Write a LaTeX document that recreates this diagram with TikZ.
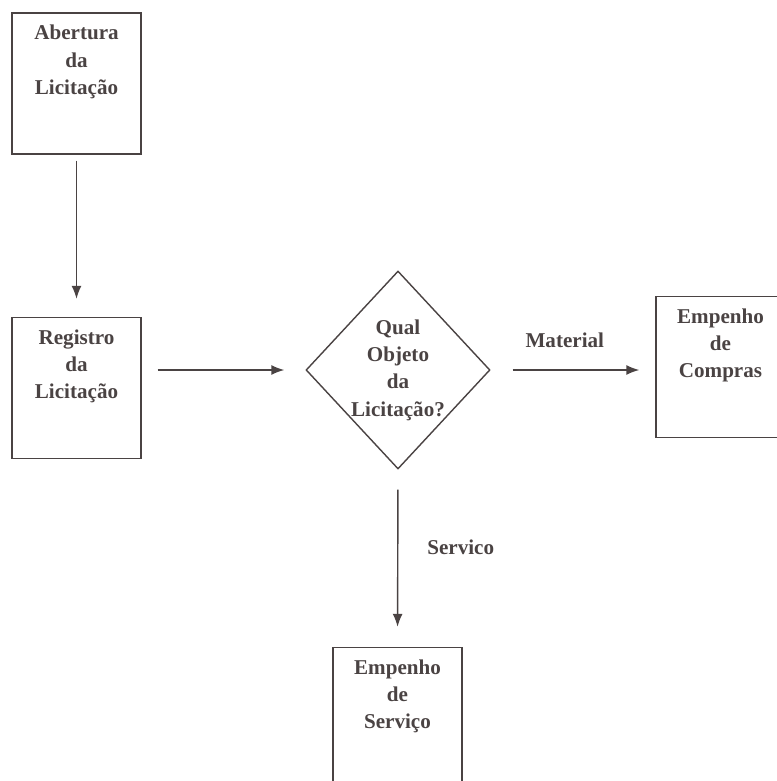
\documentclass[tikz,border=0pt]{standalone}
\usepackage{fontspec}
\setmainfont{Liberation Serif}
\usepackage{xcolor}
\usetikzlibrary{shapes.geometric}
\usetikzlibrary{arrows.meta}

\definecolor{inkgray}{HTML}{4A4343}
\newcommand{\boxtext}[1]{\parbox[c][2.34cm][t]{2.1cm}{\centering #1}}

\begin{document}
\begin{tikzpicture}[
            procnode/.style={draw=inkgray, line width=0.8pt, minimum width=2.58cm, minimum height=2.82cm, inner sep=0.24cm, text=inkgray, font=\fontsize{12}{15.6}\selectfont\bfseries},
            decisionnode/.style={diamond, draw=inkgray, line width=0.8pt, minimum width=3.68cm, minimum height=3.96cm, aspect=0.93, inner sep=-0.05cm, align=center, text=inkgray, font=\fontsize{12}{15.6}\selectfont\bfseries},
            flowline/.style={draw=inkgray, line width=0.8pt, -{Latex[length=0.26cm, width=0.2cm]}},
            labelnode/.style={text=inkgray, font=\fontsize{12}{15.6}\selectfont\bfseries}
        ]
            % page frame
            \useasboundingbox (0,0) rectangle (15.54,-15.62);

            % steps
            \node[procnode] (abertura) at (1.53,-1.67) {\boxtext{Abertura\\da\\Licitação}};
            \node[procnode] (registro) at (1.53,-7.76) {\boxtext{Registro\\da\\Licitação}};
            \node[decisionnode] (decisao) at (7.96,-7.40) {Qual\\Objeto\\da\\Licitação?};
            \node[procnode] (compras) at (14.41,-7.34) {\boxtext{Empenho\\de\\Compras}};
            \node[procnode] (servico) at (7.95,-14.36) {\boxtext{Empenho\\de\\Serviço}};

            % arrows
            \draw[flowline, shorten <=0.12cm, shorten >=0.36cm] (abertura) -- (registro);
            \draw[flowline, shorten <=0.32cm, shorten >=0.42cm] (registro.east |- decisao.west) -- (decisao.west);
            \draw[flowline, shorten <=0.44cm, shorten >=0.32cm] (decisao.east) -- (compras.west |- decisao.east)
                node[labelnode, pos=0.45, above=0.32cm] (material) {Material};
            \draw[flowline, shorten <=0.4cm, shorten >=0.4cm] (decisao.south) -- (servico.north)
                node[labelnode, pos=0.44, right=0.46cm] (tiposervico) {Servico};

        \end{tikzpicture}
\end{document}
